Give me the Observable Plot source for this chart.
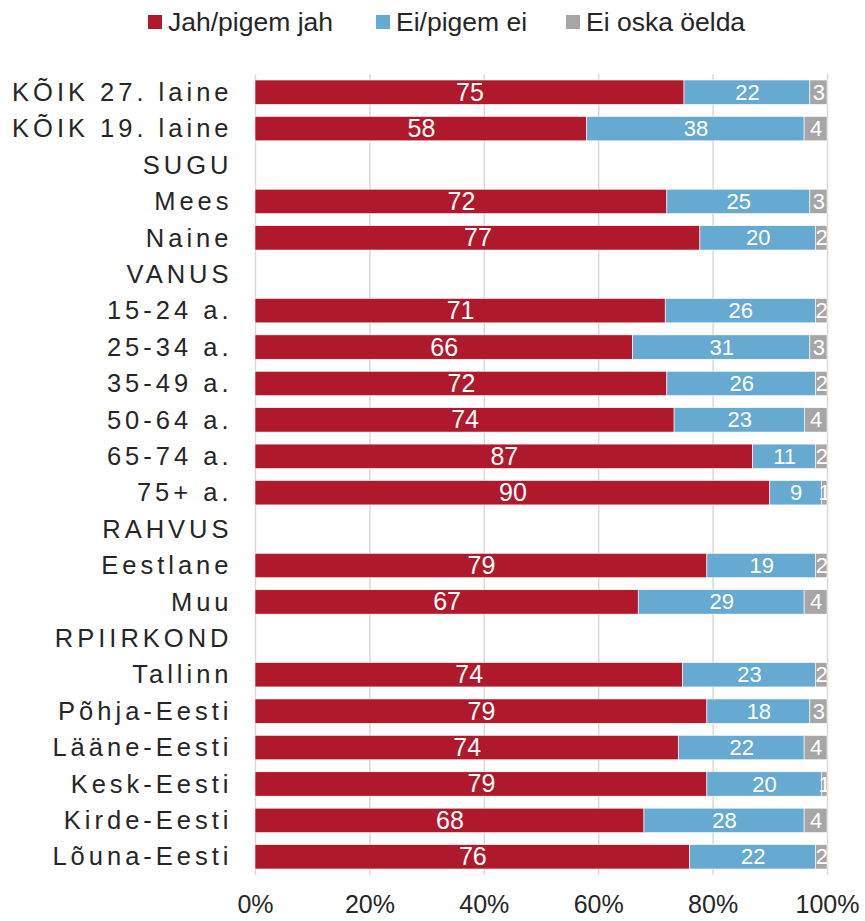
<!DOCTYPE html>
<html>
<head>
<meta charset="utf-8">
<script src="https://cdn.jsdelivr.net/npm/d3@7"></script>
<script src="https://cdn.jsdelivr.net/npm/@observablehq/plot@0.6"></script>
<style>
  body { margin: 0; background: #fff; font-family: "Liberation Sans", Arial, sans-serif; }
  #legend { height: 46px; position: relative; }
  .item { position: absolute; top: 5px; display: flex; align-items: center; font-size: 26.5px; color: #262626; line-height: 34px; }
  .sw { width: 14px; height: 14px; margin-right: 6px; }
  #chart svg { display: block; }
</style>
</head>
<body>
<div id="legend"></div>
<div id="chart"></div>
<script>
const categories = ["KÕIK 27. laine", "KÕIK 19. laine", "SUGU", "Mees", "Naine", "VANUS",
  "15-24 a.", "25-34 a.", "35-49 a.", "50-64 a.", "65-74 a.", "75+ a.", "RAHVUS",
  "Eestlane", "Muu", "RPIIRKOND", "Tallinn", "Põhja-Eesti", "Lääne-Eesti",
  "Kesk-Eesti", "Kirde-Eesti", "Lõuna-Eesti"];
const seriesNames = ["Jah/pigem jah", "Ei/pigem ei", "Ei oska öelda"];
const seriesColors = ["#B0192C", "#67AAD1", "#A6A6A6"];
const jah = [75, 58, null, 72, 77, null, 71, 66, 72, 74, 87, 90, null, 79, 67, null, 74, 79, 74, 79, 68, 76];
const ei  = [22, 38, null, 25, 20, null, 26, 31, 26, 23, 11, 9, null, 19, 29, null, 23, 18, 22, 20, 28, 22];
const eos = [3, 4, null, 3, 2, null, 2, 3, 2, 4, 2, 1, null, 2, 4, null, 2, 3, 4, 1, 4, 2];
const xTicks = [0, 0.2, 0.4, 0.6, 0.8, 1];

const seriesValues = [jah, ei, eos];
const rows = [];
categories.forEach((c, i) => {
  seriesValues.forEach((vals, s) => {
    if (vals[i] != null) rows.push({cat: c, series: seriesNames[s], value: vals[i]});
  });
});

// legend
const legend = document.getElementById("legend");
const legendLeft = [148, 376, 566];
seriesNames.forEach((n, i) => {
  const it = document.createElement("div");
  it.className = "item";
  it.style.left = legendLeft[i] + "px";
  it.innerHTML = `<span class="sw" style="background:${seriesColors[i]}"></span><span>${n}</span>`;
  legend.appendChild(it);
});

const chart = Plot.plot({
  width: 865,
  height: 875,
  marginTop: 28,
  marginBottom: 46,
  marginLeft: 255,
  marginRight: 38,
  style: {fontFamily: "Liberation Sans, Arial, sans-serif", background: "white"},
  x: {domain: [0, 1], ticks: xTicks, tickFormat: d3.format(".0%"), label: null},
  y: {domain: categories, paddingInner: 0.33, paddingOuter: 0.165, round: false, label: null},
  color: {domain: seriesNames, range: seriesColors},
  marks: [
    Plot.gridX(xTicks, {stroke: "#D9D9D9", strokeOpacity: 1, strokeWidth: 1.5}),
    Plot.barX(rows, Plot.stackX({offset: "normalize", x: "value", y: "cat", z: "series", fill: "series", order: seriesNames, stroke: "white", strokeWidth: 0.6})),
    Plot.text(rows, Plot.stackX({offset: "normalize", x: "value", y: "cat", z: "series", order: seriesNames,
      text: d => String(d.value), fill: "white",
      fontSize: d => d.series === seriesNames[0] ? 25 : 22, clip: true})),
    Plot.axisX({ticks: xTicks, tickFormat: d3.format(".0%"), tickSize: 0, tickPadding: 20, fontSize: 25, fill: "#262626", label: null}),
    Plot.axisY({tickSize: 0, tickPadding: 23, fontSize: 25.5, fill: "#262626", label: null})
  ]
});
document.getElementById("chart").appendChild(chart);
d3.select(chart).selectAll('g[aria-label="y-axis tick label"] text').attr("letter-spacing", "4px");
</script>
</body>
</html>
